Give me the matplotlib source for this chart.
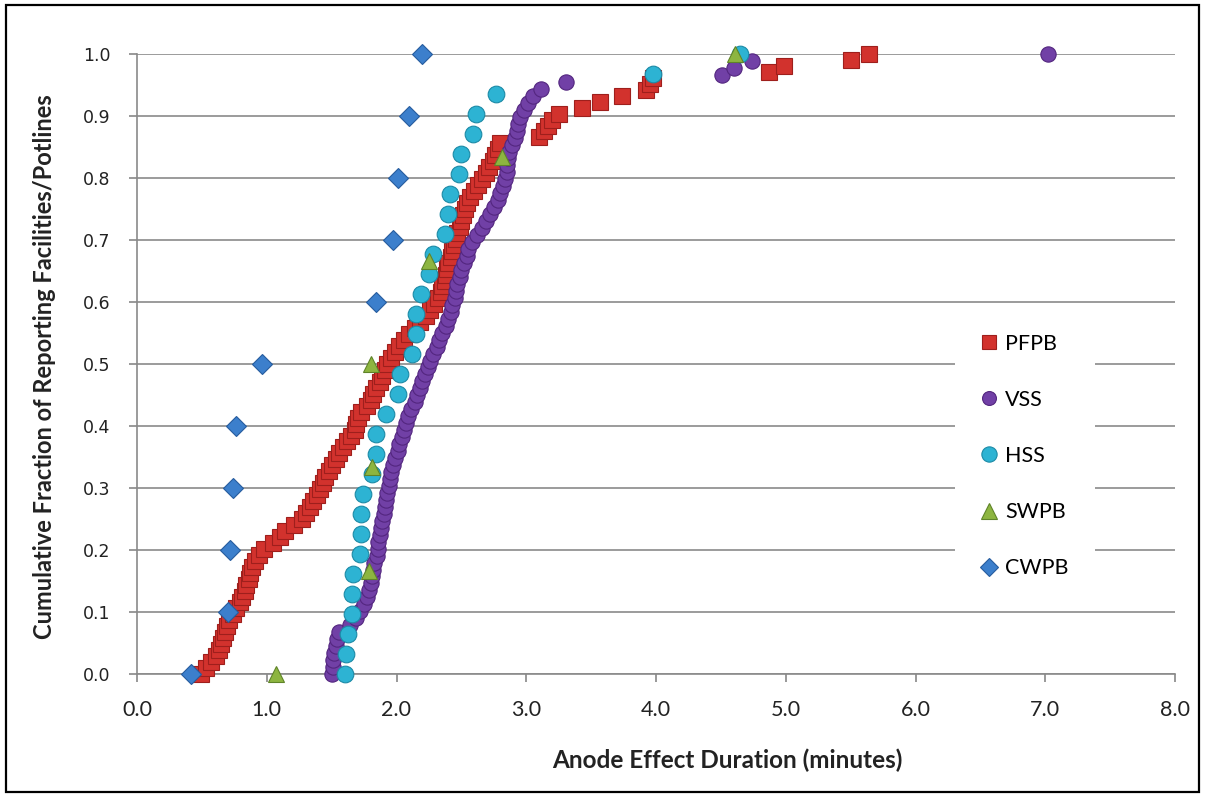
import matplotlib.pyplot as plt
import numpy as np
from matplotlib.patches import Rectangle
from matplotlib.lines import Line2D

# Anode effect durations (minutes), sorted, one list per technology
pfpb = [0.49, 0.53, 0.57, 0.61, 0.63, 0.65, 0.66, 0.68, 0.69, 0.71,
        0.74, 0.76, 0.79, 0.81, 0.83, 0.84, 0.86, 0.87, 0.89, 0.91,
        0.94, 0.98, 1.05, 1.10, 1.14, 1.21, 1.27, 1.30, 1.33, 1.36,
        1.39, 1.41, 1.43, 1.45, 1.48, 1.50, 1.53, 1.56, 1.59, 1.62,
        1.65, 1.68, 1.69, 1.70, 1.73, 1.77, 1.80, 1.82, 1.84, 1.87,
        1.89, 1.91, 1.93, 1.96, 1.99, 2.02, 2.06, 2.10, 2.14, 2.18,
        2.23, 2.26, 2.29, 2.32, 2.34, 2.35, 2.37, 2.38, 2.39, 2.40,
        2.42, 2.43, 2.44, 2.46, 2.47, 2.49, 2.50, 2.51, 2.53, 2.54,
        2.57, 2.60, 2.63, 2.66, 2.69, 2.71, 2.74, 2.76, 2.78, 2.80,
        3.10, 3.14, 3.17, 3.20, 3.25, 3.43, 3.57, 3.74, 3.92, 3.95,
        3.98, 4.87, 4.99, 5.50, 5.64]

vss = [1.50, 1.51, 1.51, 1.52, 1.53, 1.54, 1.56, 1.64, 1.69, 1.72,
       1.75, 1.77, 1.79, 1.80, 1.81, 1.82, 1.83, 1.85, 1.86, 1.86,
       1.87, 1.88, 1.89, 1.90, 1.91, 1.92, 1.93, 1.94, 1.95, 1.96,
       1.97, 1.99, 2.01, 2.02, 2.04, 2.06, 2.07, 2.09, 2.11, 2.14,
       2.16, 2.18, 2.20, 2.22, 2.24, 2.26, 2.28, 2.31, 2.33, 2.35,
       2.38, 2.40, 2.42, 2.43, 2.45, 2.46, 2.47, 2.49, 2.50, 2.52,
       2.54, 2.55, 2.58, 2.62, 2.66, 2.69, 2.72, 2.75, 2.78, 2.80,
       2.82, 2.84, 2.85, 2.85, 2.86, 2.87, 2.89, 2.91, 2.93, 2.94,
       2.95, 2.98, 3.01, 3.05, 3.11, 3.31, 4.51, 4.60, 4.74, 7.02]

hss = [1.60, 1.61, 1.63, 1.655, 1.66, 1.665, 1.72, 1.725, 1.73, 1.745,
       1.81, 1.84, 1.84, 1.92, 2.01, 2.03, 2.12, 2.15, 2.15, 2.19,
       2.25, 2.28, 2.37, 2.40, 2.41, 2.48, 2.50, 2.59, 2.61, 2.77,
       3.98, 4.65]

swpb = [1.07, 1.79, 1.81, 1.80, 2.25, 2.81, 4.61]

cwpb = [0.42, 0.70, 0.72, 0.74, 0.76, 0.96, 1.84, 1.97, 2.01, 2.10, 2.20]

names = ["PFPB", "VSS", "HSS", "SWPB", "CWPB"]
series = [pfpb, vss, hss, swpb, cwpb]
markers = ["s", "o", "o", "^", "D"]
sizes = [11.5, 11, 12, 12, 10]
faces = ["#D2322D", "#7140A6", "#2DB3D3", "#8DB540", "#3C7FCC"]
edges = ["#9E1F1C", "#53267F", "#1C8AA6", "#5F8429", "#265C9E"]

fig = plt.figure(figsize=(12.05, 7.96), dpi=100)
ax = fig.add_axes([137 / 1205, 1 - 674 / 796, 1038 / 1205, 620 / 796])

for vals, name, m, ms, fc, ec in zip(series, names, markers, sizes, faces, edges):
    x = np.array(vals)
    frac = np.arange(len(x)) / (len(x) - 1)
    ax.plot(x, frac, linestyle="none", marker=m, markersize=ms,
            markerfacecolor=fc, markeredgecolor=ec, markeredgewidth=0.8,
            clip_on=False, zorder=3, label=name)

ax.set_xlim(0, 8)
ax.set_ylim(0, 1)
ax.set_xticks(np.arange(0, 8.5, 1.0))
ax.set_yticks(np.arange(0, 1.05, 0.1))
ax.set_xticklabels([f"{v:.1f}" for v in np.arange(0, 8.5, 1.0)],
                   fontsize=15.5, family="Lato", color="#222222")
ax.set_yticklabels([f"{v:.1f}" for v in np.arange(0, 1.05, 0.1)],
                   fontsize=12.5, family="DejaVu Sans", color="#222222")
ax.tick_params(axis="both", direction="out", length=6, width=1.2,
               color="#888888", pad=13)
ax.yaxis.grid(True, color="#8a8a8a", linewidth=1.2)
ax.set_axisbelow(True)
for s in ["top", "right"]:
    ax.spines[s].set_visible(False)
for s in ["left", "bottom"]:
    ax.spines[s].set_color("#8a8a8a")
    ax.spines[s].set_linewidth(1.2)

fig.text(727 / 1205, 1 - 760 / 796, "Anode Effect Duration (minutes)",
         ha="center", va="center", fontsize=17.5, family="Lato",
         fontweight="bold", color="#222222")
fig.text(45 / 1205, 1 - 367 / 796,
         "Cumulative Fraction of Reporting Facilities/Potlines",
         ha="center", va="center", rotation=90, fontsize=17, family="Lato",
         fontweight="bold", color="#222222")

# white box behind the legend (hides the gridlines there)
fig.patches.append(Rectangle((955 / 1205, 1 - 600 / 796), 140 / 1205, 282 / 796,
                             transform=fig.transFigure, facecolor="white",
                             edgecolor="none", zorder=2))
handles = [Line2D([], [], linestyle="none", marker=m, markersize=ms - 1,
                  markerfacecolor=fc, markeredgecolor=ec, markeredgewidth=0.8)
           for m, ms, fc, ec in zip(markers, sizes, faces, edges)]
leg = fig.legend(handles, names, loc="center left",
                 bbox_to_anchor=(978 / 1205, 1 - 456 / 796),
                 frameon=False, prop={"family": "Lato", "size": 15.5},
                 handlelength=1.0, handletextpad=0.25, labelspacing=1.68,
                 borderpad=0, borderaxespad=0)
leg.set_zorder(5)

# black frame around the whole picture
fig.patches.append(Rectangle((6 / 1205, 4 / 796), 1193 / 1205, 787 / 796,
                             transform=fig.transFigure, facecolor="none",
                             edgecolor="black", linewidth=1.6, zorder=10))

fig.savefig("out.png", dpi=100)
